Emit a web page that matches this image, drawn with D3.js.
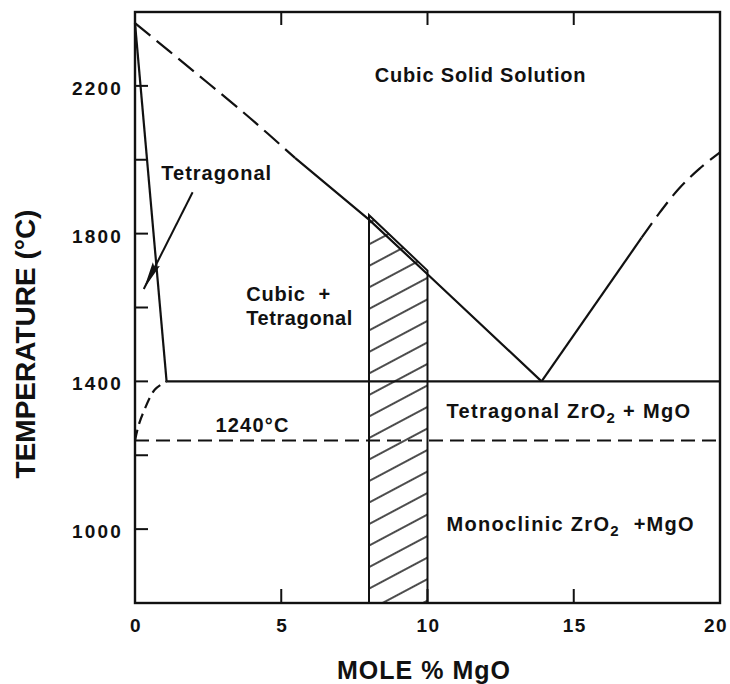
<!DOCTYPE html>
<html>
<head>
<meta charset="utf-8">
<script src="https://cdn.jsdelivr.net/npm/d3@7/dist/d3.min.js"></script>
<style>
    html, body { margin: 0; padding: 0; background: #fff; }
    text { font-family: "Liberation Sans", Arial, Helvetica, sans-serif; font-weight: bold; fill: #111; }
</style>
</head>
<body>
<div id="chart"></div>
<script>
// values (mole % MgO, temperature in C)
var xTicks = [0, 5, 10, 15, 20];
var xMinorTicks = [5, 10, 15];
var yTicks = [1000, 1400, 1800, 2200];
var yMinorTicks = [1000, 1200, 1400, 1600, 1800, 2000, 2200];

var cubicDashed = [[0, 2370], [2, 2240], [3.93, 2113], [5.47, 2005]];
var cubicSolid = [[5.47, 2005], [8, 1838], [10, 1690], [13.9, 1400]];
var mgoSolid = [[13.9, 1400], [17.32, 1789]];
var mgoDashed = [[17.32, 1789], [17.9, 1853], [18.6, 1922], [19.3, 1976], [20, 2020]];
var tetBoundary = [[0, 2370], [1.08, 1400]];
var tetLower = [[0, 1240], [0.12, 1280], [0.28, 1315], [0.68, 1378], [1.08, 1400]];
var eutectoid = [[1.08, 1400], [20, 1400]];
var monoLine = [[0, 1240], [20, 1240]];
var hatchArea = [[8, 800], [8, 1850], [10, 1700], [10, 800]];
var arrowLine = [[1.97, 1912], [0.3, 1650]];

var labels = [
    {x: 8.2, y: 2210, sp: 0.8, parts: [['Cubic Solid Solution']]},
    {x: 0.9, y: 1944, sp: 1, parts: [['Tetragonal']]},
    {x: 3.8, y: 1618, sp: 0.8, parts: [['Cubic  +']]},
    {x: 3.8, y: 1552, sp: 0.6, parts: [['Tetragonal']]},
    {x: 2.75, y: 1262, sp: 1.2, parts: [['1240\u00b0C']]},
    {x: 10.65, y: 1302, sp: 1.3, parts: [['Tetragonal ZrO'], ['2', 'sub'], [' + MgO']]},
    {x: 10.65, y: 995, sp: 1.3, parts: [['Monoclinic ZrO'], ['2', 'sub'], ['  +MgO']]}
];

var width = 730, height = 684;

var svg = d3.select('#chart').append('svg')
    .attr('width', width)
    .attr('height', height);

var x = d3.scaleLinear().domain([0, 20]).range([135, 720]);
var y = d3.scaleLinear().domain([800, 2400]).range([603, 12]);

var defs = svg.append('defs');
var pat = defs.append('pattern')
    .attr('id', 'hatch')
    .attr('patternUnits', 'userSpaceOnUse')
    .attr('width', 40)
    .attr('height', 19)
    .attr('patternTransform', 'rotate(-28)');
pat.append('line')
    .attr('x1', 0).attr('y1', 9).attr('x2', 40).attr('y2', 9)
    .attr('stroke', '#111').attr('stroke-width', 1.3);

defs.append('marker')
    .attr('id', 'head')
    .attr('markerUnits', 'userSpaceOnUse')
    .attr('viewBox', '0 -5 28 10')
    .attr('refX', 28).attr('refY', 0)
    .attr('markerWidth', 28).attr('markerHeight', 10)
    .attr('orient', 'auto')
    .append('path')
    .attr('d', 'M0,-4L28,0L0,4L4,0Z')
    .attr('fill', '#111');

var line = d3.line().x(function (d) { return x(d[0]); }).y(function (d) { return y(d[1]); });
var smooth = d3.line().x(function (d) { return x(d[0]); }).y(function (d) { return y(d[1]); })
    .curve(d3.curveCatmullRom.alpha(0.5));

// hatched band 8-10 mol%
svg.append('path')
    .attr('d', line(hatchArea) + 'Z')
    .attr('fill', 'url(#hatch)')
    .attr('stroke', '#111')
    .attr('stroke-width', 2);

function draw(data, gen, dash, w) {
    svg.append('path')
        .attr('d', gen(data))
        .attr('fill', 'none')
        .attr('stroke', '#111')
        .attr('stroke-width', w || 2.2)
        .attr('stroke-dasharray', dash || null);
}

draw(cubicDashed, smooth, '20,8');
draw(cubicSolid, line);
draw(mgoSolid, line);
draw(mgoDashed, smooth, '18,8');
draw(tetBoundary, line);
draw(tetLower, smooth, '11,6');
draw(eutectoid, line);
draw(monoLine, line, '14,7');

svg.append('path')
    .attr('d', line(arrowLine))
    .attr('stroke', '#111')
    .attr('stroke-width', 2)
    .attr('fill', 'none')
    .attr('marker-end', 'url(#head)');

// frame
svg.append('rect')
    .attr('x', x(0)).attr('y', y(2400))
    .attr('width', x(20) - x(0)).attr('height', y(800) - y(2400))
    .attr('fill', 'none').attr('stroke', '#111').attr('stroke-width', 2.4);

// inward ticks
svg.selectAll('.ytick').data(yMinorTicks).enter().append('line')
    .attr('x1', x(0)).attr('x2', x(0) + 13)
    .attr('y1', function (d) { return y(d); }).attr('y2', function (d) { return y(d); })
    .attr('stroke', '#111').attr('stroke-width', 2);

svg.selectAll('.xtickb').data(xMinorTicks).enter().append('line')
    .attr('x1', function (d) { return x(d); }).attr('x2', function (d) { return x(d); })
    .attr('y1', y(800)).attr('y2', y(800) - 14)
    .attr('stroke', '#111').attr('stroke-width', 2);

svg.selectAll('.xtickt').data(xMinorTicks).enter().append('line')
    .attr('x1', function (d) { return x(d); }).attr('x2', function (d) { return x(d); })
    .attr('y1', y(2400)).attr('y2', y(2400) + 13)
    .attr('stroke', '#111').attr('stroke-width', 2);

// tick labels
svg.selectAll('.ylab').data(yTicks).enter().append('text')
    .attr('x', x(0) - 12)
    .attr('y', function (d) { return y(d) + 9; })
    .attr('text-anchor', 'end')
    .style('font-size', '19px')
    .style('letter-spacing', '2.2px')
    .text(function (d) { return d; });

svg.selectAll('.xlab').data(xTicks).enter().append('text')
    .attr('x', function (d) { return d === 20 ? x(d) - 4 : x(d) + 1; })
    .attr('y', 632)
    .attr('text-anchor', 'middle')
    .style('font-size', '19px')
    .style('letter-spacing', '1.5px')
    .text(function (d) { return d; });

// axis titles
svg.append('text')
    .attr('x', 424).attr('y', 679)
    .attr('text-anchor', 'middle')
    .style('font-size', '25px')
    .style('letter-spacing', '1px')
    .text('MOLE % MgO');

svg.append('text')
    .attr('transform', 'translate(35,344) rotate(-90)')
    .attr('text-anchor', 'middle')
    .style('font-size', '28px')
    .text('TEMPERATURE (\u00b0C)');

// region labels
labels.forEach(function (l) {
    var t = svg.append('text')
        .attr('x', x(l.x)).attr('y', y(l.y))
        .style('font-size', '20px')
        .style('letter-spacing', l.sp + 'px')
        .style('white-space', 'pre');
    l.parts.forEach(function (p) {
        var s = t.append('tspan').text(p[0]);
        if (p[1] === 'sub') {
            s.attr('dy', 5).style('font-size', '15px');
        } else if (t.selectAll('tspan').size() > 1) {
            s.attr('dy', -5);
        }
    });
});
</script>
</body>
</html>
